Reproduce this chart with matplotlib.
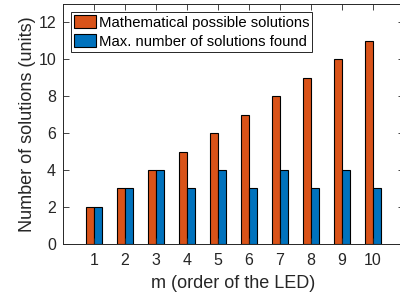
import matplotlib
matplotlib.use("Agg")
import matplotlib.pyplot as plt
import numpy as np

# data
m_order = [1, 2, 3, 4, 5, 6, 7, 8, 9, 10]
possible = [2, 3, 4, 5, 6, 7, 8, 9, 10, 11]
found = [2, 3, 4, 3, 4, 3, 4, 3, 4, 3]
series_names = ["Mathematical possible solutions", "Max. number of solutions found"]

plt.rcParams["font.family"] = ["Liberation Sans", "DejaVu Sans"]
txt = "#262626"

fig = plt.figure(figsize=(4.0, 3.01), dpi=100)
ax = fig.add_axes([63 / 400, 1 - 243.7 / 301, (404 - 63) / 400, (243.7 - 4) / 301])

x = np.array(m_order)
w = 0.25
ax.bar(x - 0.14, possible, w, color="#D95319", edgecolor="black", linewidth=0.8,
       label=series_names[0])
ax.bar(x + 0.14, found, w, color="#0072BD", edgecolor="black", linewidth=0.8,
       label=series_names[1])

ax.set_xlim(0, 11)
ax.set_ylim(0, 13)
ax.set_xticks(m_order)
ax.set_yticks(range(0, 13, 2))
ax.tick_params(direction="in", top=True, right=True, labelsize=11.5, colors=txt,
               length=4, width=0.6)
ax.tick_params(axis="x", pad=7)
ax.tick_params(axis="y", pad=5)
for s in ax.spines.values():
    s.set_color(txt)
    s.set_linewidth(0.7)

ax.set_xlabel("m (order of the LED)", fontsize=13, color=txt, labelpad=5)
ax.set_ylabel("Number of solutions (units)", fontsize=13, color=txt, labelpad=2)

leg = ax.legend(loc="upper left", fontsize=10.7, fancybox=False, framealpha=1,
                edgecolor=txt, borderaxespad=0.55, handlelength=1.5,
                handleheight=0.95, handletextpad=0.15, borderpad=0.2,
                labelspacing=0.3)
leg.get_frame().set_linewidth(0.7)
for t in leg.get_texts():
    t.set_color("black")

fig.savefig("out.png", dpi=100)
